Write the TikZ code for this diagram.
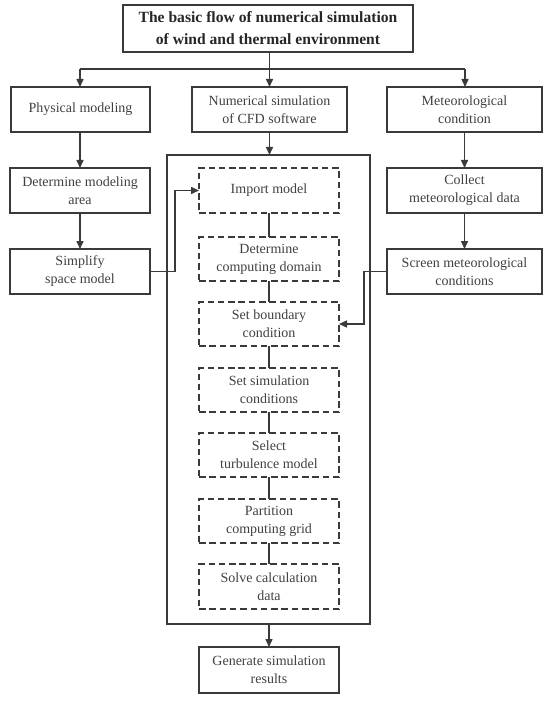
\documentclass[tikz,border=0pt]{standalone}
\usepackage{fontspec}
\setmainfont{Liberation Serif}
\usetikzlibrary{arrows.meta}
\definecolor{ink}{HTML}{3A3A3A}
\definecolor{txt}{HTML}{404040}
\begin{document}
\begin{tikzpicture}[x=1pt,y=-1pt,
  box/.style={draw=ink,line width=1.5pt,rectangle,inner sep=0pt,outer sep=0pt,
    align=center,text=txt,font=\fontsize{14}{18}\selectfont},
  dbox/.style={box,dash pattern=on 6.5pt off 3.8pt},
  conn/.style={draw=ink,line width=1.5pt},
  arr/.style={conn,-{Triangle[length=8pt,width=7pt]}}]
\useasboundingbox (0,0) rectangle (550,703);
% title
\node[box,minimum width=290pt,minimum height=47pt,font=\fontsize{15.6}{22}\selectfont\bfseries,text=black!85]
  (title) at (268,28.5) {The basic flow of numerical simulation\\of wind and thermal environment};
% top row
\node[box,minimum width=139pt,minimum height=45pt] (phys) at (80.5,109.5) {Physical modeling};
\node[box,minimum width=155pt,minimum height=45pt] (cfd) at (269.5,109.5) {Numerical simulation\\of CFD software};
\node[box,minimum width=155pt,minimum height=45pt] (met) at (464.5,109.5) {Meteorological\\condition};
% left column
\node[box,minimum width=140pt,minimum height=45pt] (area) at (80,190.5) {Determine modeling\\area};
\node[box,minimum width=140pt,minimum height=45pt] (simp) at (80,271.5) {Simplify\\space model};
% right column
\node[box,minimum width=155pt,minimum height=45pt] (coll) at (464.5,190.5) {Collect\\meteorological data};
\node[box,minimum width=155pt,minimum height=45pt] (scr) at (464.5,271.5) {Screen meteorological\\conditions};
% big box
\node[box,minimum width=203pt,minimum height=469pt] (big) at (268.5,389.5) {};
% dashed steps
\node[dbox,minimum width=140pt,minimum height=45pt] (imp) at (269,190.5) {Import model};
\node[dbox,minimum width=140pt,minimum height=44pt] (dom) at (269,259) {Determine\\computing domain};
\node[dbox,minimum width=140pt,minimum height=44pt] (bnd) at (269,324) {Set boundary\\condition};
\node[dbox,minimum width=140pt,minimum height=44pt] (sim) at (269,390) {Set simulation\\conditions};
\node[dbox,minimum width=140pt,minimum height=44pt] (turb) at (269,455) {Select\\turbulence model};
\node[dbox,minimum width=140pt,minimum height=44pt] (part) at (269,521) {Partition\\computing grid};
\node[dbox,minimum width=140pt,minimum height=45pt] (solv) at (269,586.5) {Solve calculation\\data};
% result
\node[box,minimum width=140pt,minimum height=46pt] (gen) at (269,670) {Generate simulation\\results};
% connectors
\coordinate (hl) at (80,69);
\coordinate (hr) at (465,69);
\draw[conn] (hl) -- (hr);
\draw[arr] (title.south -| cfd.north) -- (cfd.north);
\draw[arr] (hl) -- (hl |- phys.north);
\draw[arr] (hr) -- (hr |- met.north);
\draw[arr] (cfd.south) -- (cfd.south |- big.north);
\draw[arr] (phys.south -| area.north) -- (area.north);
\draw[arr] (area) -- (simp);
\draw[arr] (met.south -| coll.north) -- (coll.north);
\draw[arr] (coll) -- (scr);
\coordinate (sj) at (175,271.5);
\draw[arr] (simp.east) -- (sj) |- (imp.west);
\coordinate (mj) at (364,271.5);
\draw[arr] (scr.west) -- (mj) |- (bnd.east);
\draw[conn] (imp) -- (dom);
\draw[conn] (dom) -- (bnd);
\draw[conn] (bnd) -- (sim);
\draw[conn] (sim) -- (turb);
\draw[conn] (turb) -- (part);
\draw[conn] (part) -- (solv);
\draw[arr] (big.south -| gen.north) -- (gen.north);
\end{tikzpicture}
\end{document}
